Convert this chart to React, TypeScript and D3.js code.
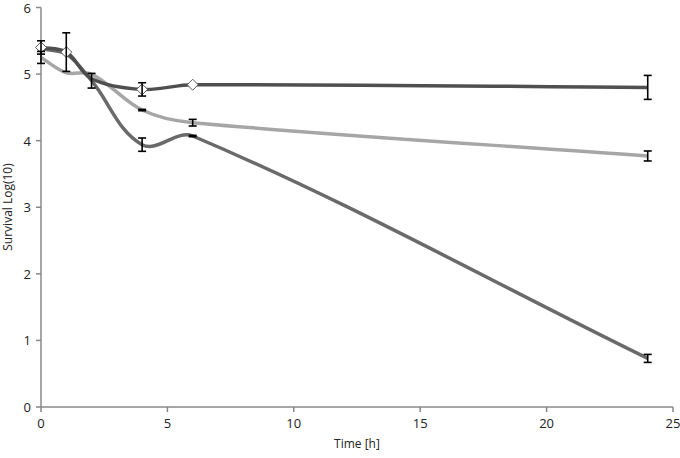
import React from "react";
import * as d3 from "d3";

const times = [0, 1, 2, 4, 6, 24];
const darkValues = [5.4, 5.33, 4.93, 4.77, 4.84, 4.8];
const darkErrors = [0.1, 0.29, 0, 0.1, 0, 0.18];
const darkMarkers = [true, true, false, true, true, false];
const lightValues = [5.25, 5.02, 5.0, 4.46, 4.27, 3.77];
const lightErrors = [0.09, 0, 0, 0.01, 0.05, 0.075];
const mediumValues = [5.38, 5.3, 4.9, 3.94, 4.07, 0.73];
const mediumErrors = [0, 0, 0.11, 0.1, 0.01, 0.06];
const xTicks = [0, 5, 10, 15, 20, 25];
const yTicks = [0, 1, 2, 3, 4, 5, 6];

const W = 680, H = 458;
const x = d3.scaleLinear().domain([0, 25]).range([41, 673]);
const y = d3.scaleLinear().domain([0, 6]).range([407, 7.5]);

const series = [
  { values: lightValues, errors: lightErrors, color: "#a6a6a6", markers: null as boolean[] | null },
  { values: mediumValues, errors: mediumErrors, color: "#6a6a6a", markers: null as boolean[] | null },
  { values: darkValues, errors: darkErrors, color: "#4f4f4f", markers: darkMarkers },
];

// Excel-like smoothing: tangent direction from neighbours, handle length proportional to own segment
function smoothPath(vals: number[]): string {
  const pts = times.map((t, i) => [x(t), y(vals[i])] as [number, number]);
  const n = pts.length;
  const dir = pts.map((p, i) => {
    const a = pts[Math.max(0, i - 1)];
    const b = pts[Math.min(n - 1, i + 1)];
    const dx = b[0] - a[0], dy = b[1] - a[1];
    const l = Math.hypot(dx, dy) || 1;
    return [dx / l, dy / l];
  });
  const p = d3.path();
  p.moveTo(pts[0][0], pts[0][1]);
  const s = 0.34;
  for (let i = 0; i < n - 1; i++) {
    const a = pts[i], b = pts[i + 1];
    const len = Math.hypot(b[0] - a[0], b[1] - a[1]) * s;
    p.bezierCurveTo(
      a[0] + dir[i][0] * len,
      a[1] + dir[i][1] * len,
      b[0] - dir[i + 1][0] * len,
      b[1] - dir[i + 1][1] * len,
      b[0],
      b[1]
    );
  }
  return p.toString();
}

const font = "'Open Sans', 'Noto Sans', sans-serif";

export default function App() {
  const axisColor = "#888888";
  return (
    <svg width={W} height={H} style={{ position: "absolute", left: 0, top: 0, background: "#fff" }}>
      <line x1={x(0)} x2={x(25)} y1={y(0)} y2={y(0)} stroke={axisColor} strokeWidth={1.5} />
      <line x1={x(0)} x2={x(0)} y1={y(0)} y2={y(6)} stroke={axisColor} strokeWidth={1.5} />
      {xTicks.map((t) => (
        <g key={"xt" + t}>
          <line x1={x(t)} x2={x(t)} y1={y(0)} y2={y(0) + 5} stroke={axisColor} strokeWidth={1.5} />
          <text x={x(t)} y={y(0) + 21} textAnchor="middle" fontSize={13} fontFamily={font} fill="#222">
            {t}
          </text>
        </g>
      ))}
      {yTicks.map((t) => (
        <g key={"yt" + t}>
          <line x1={x(0) - 5} x2={x(0)} y1={y(t)} y2={y(t)} stroke={axisColor} strokeWidth={1.5} />
          <text x={x(0) - 10} y={y(t) + 5} textAnchor="end" fontSize={13} fontFamily={font} fill="#222">
            {t}
          </text>
        </g>
      ))}
      <text x={357} y={448} textAnchor="middle" fontSize={12} fontFamily={font} fill="#222">
        Time [h]
      </text>
      <text
        transform={`translate(12,${207}) rotate(-90)`}
        textAnchor="middle"
        fontSize={12}
        fontFamily={font}
        fill="#222"
      >
        Survival Log(10)
      </text>
      {series.map((s, i) => (
        <path key={"l" + i} d={smoothPath(s.values)} fill="none" stroke={s.color} strokeWidth={3.5} />
      ))}
      {series.map((s, i) =>
        s.markers
          ? times.map((t, j) =>
              s.markers![j] ? (
                <path
                  key={"m" + i + "-" + j}
                  d={`M${x(t)},${y(s.values[j]) - 5.5}L${x(t) + 5.5},${y(s.values[j])}L${x(t)},${y(s.values[j]) + 5.5}L${x(t) - 5.5},${y(s.values[j])}Z`}
                  fill="#fff"
                  stroke="#5a5a5a"
                  strokeWidth={1}
                />
              ) : null
            )
          : null
      )}
      {series.map((s, i) =>
        times.map((t, j) => {
          const e = s.errors[j];
          if (!e) return null;
          const cx = x(t);
          const y1 = y(s.values[j] + e);
          const y2 = y(s.values[j] - e);
          return (
            <g key={"e" + i + "-" + j} stroke="#000" strokeWidth={1.6}>
              <line x1={cx} x2={cx} y1={y1} y2={y2} />
              <line x1={cx - 4} x2={cx + 4} y1={y1} y2={y1} />
              <line x1={cx - 4} x2={cx + 4} y1={y2} y2={y2} />
            </g>
          );
        })
      )}
    </svg>
  );
}
